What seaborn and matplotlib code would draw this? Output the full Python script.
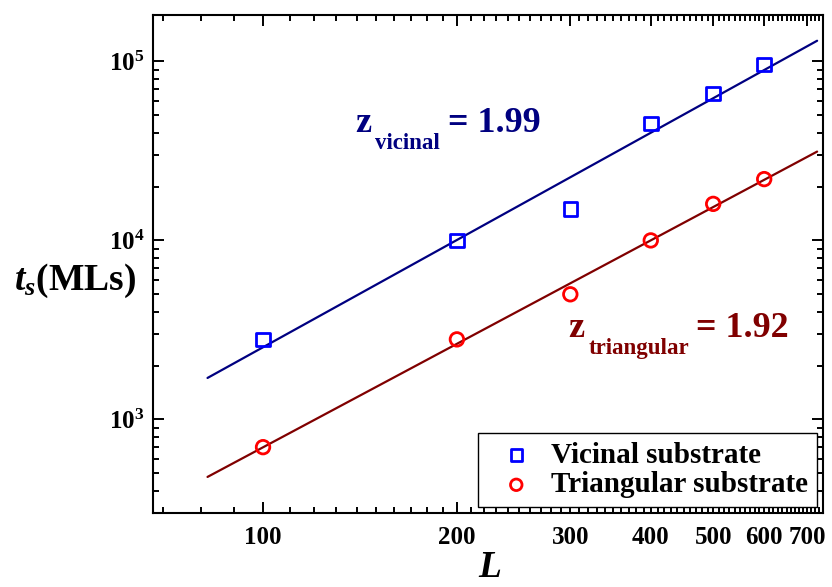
import numpy as np
import pandas as pd
import matplotlib
matplotlib.use("Agg")
import matplotlib.pyplot as plt
from matplotlib.ticker import FixedLocator, LogLocator, FuncFormatter, NullFormatter
import seaborn as sns

# System sizes and saturation times (in monolayers)
L_values = [100, 200, 300, 400, 500, 600]
t_vicinal = [2800, 10000, 15000, 45000, 66000, 96000]
t_triangular = [700, 2800, 5000, 10000, 16000, 22000]

# Power-law fits t_s = A * L^z
z_exponents = [1.99, 1.92]
fit_prefactors = [0.265, 0.101]
fit_L_range = [82, 725]

series_names = ["Vicinal substrate", "Triangular substrate"]
z_subscripts = ["vicinal", "triangular"]
x_tick_values = [100, 200, 300, 400, 500, 600, 700]
y_tick_values = [1e3, 1e4, 1e5]

sns.set_theme(style="ticks")
plt.rcParams.update({
    "font.family": ["Liberation Serif", "DejaVu Serif"],
    "font.weight": "bold",
    "text.color": "black",
    "axes.labelcolor": "black",
    "xtick.color": "black",
    "ytick.color": "black",
    "axes.edgecolor": "black",
    "mathtext.fontset": "custom",
    "mathtext.rm": "Liberation Serif:bold",
    "mathtext.bf": "Liberation Serif:bold",
    "mathtext.it": "Liberation Serif:bold:italic",
    "mathtext.bfit": "Liberation Serif:bold:italic",
    "axes.linewidth": 1.5,
})

fig = plt.figure(figsize=(8.32, 5.87), dpi=100)
ax = fig.add_axes([0.184, 0.126, 0.805, 0.848])

data = pd.DataFrame({"L": L_values, "vicinal": t_vicinal, "triangular": t_triangular})

marker_colors = ["#0000ff", "#ff0000"]
line_colors = ["#000080", "#800000"]
markers = ["s", "o"]

# fitted power laws
for i in range(2):
    Lf = np.array(fit_L_range, dtype=float)
    fit = pd.DataFrame({"L": Lf, "t": fit_prefactors[i] * Lf ** z_exponents[i]})
    sns.lineplot(data=fit, x="L", y="t", color=line_colors[i], linewidth=1.6, ax=ax,
                 legend=False, zorder=2)

# measured saturation times
for i, col in enumerate(["vicinal", "triangular"]):
    sns.scatterplot(data=data, x="L", y=col, marker=markers[i], s=95,
                    facecolors="none", edgecolors=marker_colors[i], linewidths=2.0,
                    color=marker_colors[i], label=series_names[i], ax=ax, zorder=3)

ax.set_xscale("log")
ax.set_yscale("log")
ax.set_xlim(67.5, 740)
ax.set_ylim(300, 1.81e5)

ax.xaxis.set_major_locator(FixedLocator(x_tick_values))
ax.xaxis.set_major_formatter(FuncFormatter(lambda v, p: f"{int(round(v))}"))
minor_x = [v for v in range(70, 750, 10) if v not in x_tick_values]
ax.xaxis.set_minor_locator(FixedLocator(minor_x))
ax.xaxis.set_minor_formatter(NullFormatter())

ax.yaxis.set_major_locator(FixedLocator(y_tick_values))
ax.yaxis.set_major_formatter(FuncFormatter(lambda v, p: r"$10^{%d}$" % int(round(np.log10(v)))))
ax.yaxis.set_minor_locator(LogLocator(base=10, subs=np.arange(2, 10)))
ax.yaxis.set_minor_formatter(NullFormatter())

ax.tick_params(which="both", direction="in", top=True, right=True, width=1.4,
               labelsize=18, colors="black")
ax.tick_params(which="major", length=8)
ax.tick_params(which="minor", length=4)
ax.tick_params(axis="x", which="major", pad=9)
ax.tick_params(axis="y", which="major", pad=6)
for lab in ax.get_xticklabels() + ax.get_yticklabels():
    lab.set_fontweight("bold")

ax.set_xlabel("L", fontsize=27, fontstyle="italic", fontweight="bold")
ax.xaxis.set_label_coords(0.503, -0.11)
ax.xaxis.label.set_va("center")
ax.set_ylabel(r"$t_s$(MLs)", fontsize=27, fontweight="bold", rotation=0,
              ha="center", va="center")
ax.yaxis.set_label_coords(-0.116, 0.466)

# exponent annotations: symbol, subscript, value
annot = [
    dict(z=(0.3015, 0.765), sub=(0.332, 0.731), eq=(0.440, 0.765), color="#000080"),
    dict(z=(0.620, 0.353), sub=(0.651, 0.319), eq=(0.810, 0.353), color="#800000"),
]
for i, a in enumerate(annot):
    ax.text(*a["z"], "z", transform=ax.transAxes, fontsize=26, fontweight="bold",
            color=a["color"], ha="left", va="baseline")
    ax.text(*a["sub"], z_subscripts[i], transform=ax.transAxes, fontsize=16.5,
            fontweight="bold", color=a["color"], ha="left", va="baseline")
    ax.text(*a["eq"], f"= {z_exponents[i]:.2f}", transform=ax.transAxes, fontsize=26,
            fontweight="bold", color=a["color"], ha="left", va="baseline")

leg = ax.legend(loc="lower right", fontsize=21, frameon=True, fancybox=False,
                edgecolor="black", framealpha=1, borderpad=0.3, labelspacing=0.1,
                handlelength=2.0, handletextpad=0.2, borderaxespad=0.2, markerscale=0.85)
leg.get_frame().set_linewidth(1.0)
for t in leg.get_texts():
    t.set_fontweight("bold")
    t.set_color("black")

fig.savefig("out.png", dpi=100, facecolor="white")
